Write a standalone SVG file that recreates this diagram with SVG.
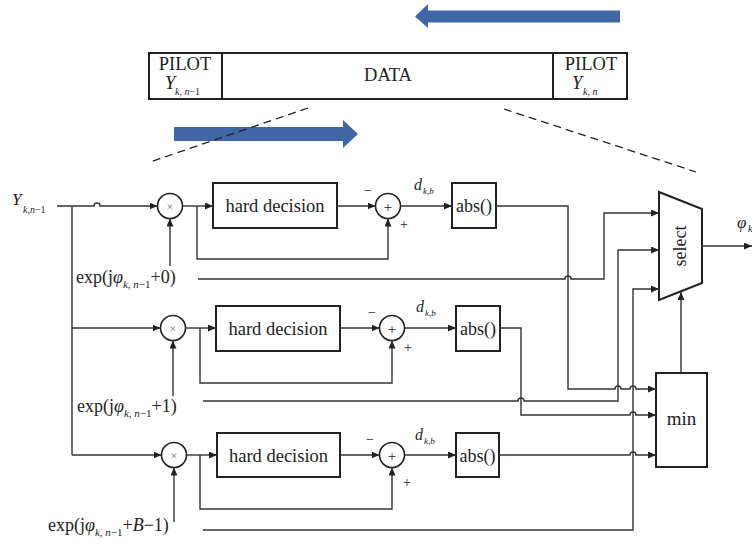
<svg xmlns="http://www.w3.org/2000/svg" width="752" height="545" viewBox="0 0 752 545">
<style>
text{font-family:"Liberation Serif","Times New Roman",serif;fill:#222}
.ln{fill:none;stroke:#333;stroke-width:1.4}
.ar{fill:none;stroke:#333;stroke-width:1.4;marker-end:url(#ah)}
.bx{fill:#fff;stroke:#222;stroke-width:2}
.ci{fill:#fff;stroke:#222;stroke-width:1.6}
.ds{fill:none;stroke:#222;stroke-width:1.3;stroke-dasharray:8 5}
.blue{fill:#3f66a5}
.it{font-style:italic}
.gx{fill:#777}
.hd{font-size:18.5px}
.ab{font-size:18px}
</style>
<defs>
<marker id="ah" viewBox="0 0 8 7" refX="8" refY="3.5" markerWidth="8" markerHeight="7" markerUnits="userSpaceOnUse" orient="auto">
<path d="M0,0 L8,3.5 L0,7 z" fill="#222"/>
</marker>
</defs>

<g id="frame">
<rect x="149" y="53" width="478" height="46" fill="#fff" stroke="#222" stroke-width="2"/>
<line x1="222" y1="53" x2="222" y2="99" stroke="#222" stroke-width="2"/>
<line x1="553" y1="53" x2="553" y2="99" stroke="#222" stroke-width="2"/>
<text x="185" y="70" font-size="18.5" text-anchor="middle">PILOT</text>
<text x="165" y="89" font-size="18.5" class="it">Y</text>
<text x="175" y="95" font-size="10" class="it">k, n<tspan font-style="normal">−1</tspan></text>
<text x="388" y="81" font-size="18.5" text-anchor="middle">DATA</text>
<text x="591" y="70" font-size="18.5" text-anchor="middle">PILOT</text>
<text x="572" y="89" font-size="18.5" class="it">Y</text>
<text x="583" y="95" font-size="10" class="it">k, n</text>
</g>

<g id="arrows-blue">
<path class="blue" d="M620,10.5 H428 V4 L415,16.5 L428,28 V22.5 H620 z"/>
<path class="blue" d="M174,127 H343 V120 L358,134 L343,148 V141 H174 z"/>
</g>

<g id="zoomlines">
<line class="ds" x1="308" y1="108" x2="150" y2="162"/>
<line class="ds" x1="504" y1="109" x2="696" y2="172"/>
</g>

<g id="input">
<text x="12" y="205" font-size="17" class="it">Y</text>
<text x="23" y="213" font-size="10" class="it">k,n<tspan font-style="normal">−1</tspan></text>
</g>

<g id="mul1"><circle class="ci" cx="170" cy="206" r="12.5"/><text x="170" y="210.5" font-size="12" class="gx" text-anchor="middle">×</text></g>
<g id="hd1"><rect class="bx" x="213" y="183" width="124" height="45"/><text x="275" y="212" class="hd" text-anchor="middle">hard decision</text></g>
<g id="add1"><circle class="ci" cx="388" cy="206" r="12.5"/><text x="388" y="211.5" font-size="15" text-anchor="middle">+</text>
<text x="368" y="195" font-size="14" text-anchor="middle">−</text><text x="404" y="229" font-size="14" text-anchor="middle">+</text></g>
<g id="abs1"><rect class="bx" x="452" y="183" width="44" height="45"/><text x="474" y="212" class="ab" text-anchor="middle">abs()</text>
<text x="414" y="190" font-size="16" class="it">d</text><text x="423" y="194" font-size="9" class="it">k,b</text></g>
<g id="exp0"><text x="76" y="283" font-size="18">exp(j<tspan class="it">φ</tspan><tspan font-size="11" class="it" dy="5">k, n</tspan><tspan font-size="11">−1</tspan><tspan dy="-5">+0)</tspan></text></g>

<g id="mul2"><circle class="ci" cx="173" cy="328" r="12.5"/><text x="173" y="332.5" font-size="12" class="gx" text-anchor="middle">×</text></g>
<g id="hd2"><rect class="bx" x="216" y="306" width="124" height="45"/><text x="278" y="335" class="hd" text-anchor="middle">hard decision</text></g>
<g id="add2"><circle class="ci" cx="392" cy="328" r="12.5"/><text x="392" y="333.5" font-size="15" text-anchor="middle">+</text>
<text x="372" y="317" font-size="14" text-anchor="middle">−</text><text x="408" y="352" font-size="14" text-anchor="middle">+</text></g>
<g id="abs2"><rect class="bx" x="456" y="306" width="44" height="45"/><text x="478" y="335" class="ab" text-anchor="middle">abs()</text>
<text x="416" y="312" font-size="16" class="it">d</text><text x="425" y="316" font-size="9" class="it">k,b</text></g>
<g id="exp1"><text x="77" y="412" font-size="18">exp(j<tspan class="it">φ</tspan><tspan font-size="11" class="it" dy="5">k, n</tspan><tspan font-size="11">−1</tspan><tspan dy="-5">+1)</tspan></text></g>

<g id="mul3"><circle class="ci" cx="174" cy="455" r="12.5"/><text x="174" y="459.5" font-size="12" class="gx" text-anchor="middle">×</text></g>
<g id="hd3"><rect class="bx" x="217" y="433" width="123" height="44"/><text x="278.5" y="462" class="hd" text-anchor="middle">hard decision</text></g>
<g id="add3"><circle class="ci" cx="392" cy="455" r="12.5"/><text x="392" y="460.5" font-size="15" text-anchor="middle">+</text>
<text x="370" y="444" font-size="14" text-anchor="middle">−</text><text x="407" y="487" font-size="14" text-anchor="middle">+</text></g>
<g id="abs3"><rect class="bx" x="456" y="433" width="43" height="44"/><text x="477.5" y="462" class="ab" text-anchor="middle">abs()</text>
<text x="415" y="440" font-size="16" class="it">d</text><text x="424" y="444" font-size="9" class="it">k,b</text></g>
<g id="exp2"><text x="48" y="531" font-size="18">exp(j<tspan class="it">φ</tspan><tspan font-size="11" class="it" dy="5">k, n</tspan><tspan font-size="11">−1</tspan><tspan dy="-5">+<tspan class="it">B</tspan>−1)</tspan></text></g>

<g id="select"><path class="bx" d="M659,192 L702,209 L702,283 L659,300 z"/>
<text transform="translate(686,246) rotate(-90)" font-size="18" text-anchor="middle">select</text></g>
<g id="min"><rect class="bx" x="656" y="373" width="51" height="94"/><text x="681.5" y="425" font-size="19" text-anchor="middle">min</text></g>
<g id="output"><text x="737" y="228" font-size="17" class="it">φ</text><text x="748" y="232" font-size="10" class="it">k</text></g>

<g id="connectors">
<path class="ar" d="M57,206 H94 A3,3 0 0 1 100,206 H157.5"/>
<path class="ln" d="M72,206 V455"/>
<path class="ar" d="M72,328 H160.5"/>
<path class="ar" d="M72,455 H161.5"/>
<path class="ar" d="M170,266 V218.5"/>
<path class="ar" d="M173,396 V340.5"/>
<path class="ar" d="M174,522 V467.5"/>
<path class="ar" d="M182.5,206 H213"/>
<path class="ar" d="M185.5,328 H216"/>
<path class="ar" d="M186.5,455 H217"/>
<path class="ar" d="M197,206 V259 H388 V218.5"/>
<path class="ar" d="M200,328 V383 H392 V340.5"/>
<path class="ar" d="M200,455 V509 H392 V467.5"/>
<path class="ar" d="M337,206 H375.5"/>
<path class="ar" d="M340,328 H379.5"/>
<path class="ar" d="M340,455 H379.5"/>
<path class="ar" d="M400.5,206 H452"/>
<path class="ar" d="M404.5,328 H456"/>
<path class="ar" d="M404.5,455 H456"/>
<path class="ar" d="M496,206 H568 V389 H615 A3,3 0 0 1 621,389 H630 A3,3 0 0 1 636,389 H656"/>
<path class="ar" d="M500,328 H521 V415 H630 A3,3 0 0 1 636,415 H656"/>
<path class="ar" d="M499,455 H630 A3,3 0 0 1 636,455 H656"/>
<path class="ar" d="M198,279 H565 A3,3 0 0 1 571,279 H604 V213 H659"/>
<path class="ar" d="M203,401 H518 A3,3 0 0 1 524,401 H618 V250 H659"/>
<path class="ar" d="M203,530 H633 V289 H659"/>
<path class="ar" d="M681,373 V292"/>
<path class="ar" d="M702,246 H752"/>
</g>
</svg>
